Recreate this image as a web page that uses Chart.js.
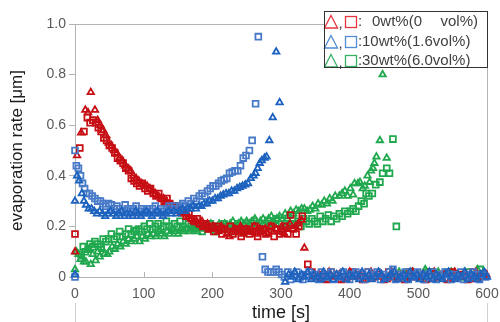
<!DOCTYPE html>
<html>
<head>
<meta charset="utf-8">
<script src="https://cdn.jsdelivr.net/npm/chart.js@4"></script>
<style>
  html, body { margin: 0; padding: 0; background: #fff; }
  #wrap { width: 500px; height: 322px; }
</style>
</head>
<body>
<div id="wrap"><canvas id="evapChart" width="500" height="322"></canvas></div>
<script>
// x ticks / y ticks
const xTicks = [0, 100, 200, 300, 400, 500, 600];
const yTicks = [0, 0.2, 0.4, 0.6, 0.8, 1.0];

// legend rows
const legendLabels = ['0wt%(0', '10wt%(1.6vol%)', '30wt%(6.0vol%)'];

// [time s, rate um]  0wt% triangles
const redTri = [
  [0,0.10],[3,0.48],[9,0.57],[15,0.66],[19,0.65],[23,0.73],[29,0.66],[33,0.62],[37,0.60],[41,0.58],
  [45,0.56],[49,0.53],[53,0.52],[57,0.50],[61,0.49],[65,0.47],[69,0.46],[73,0.44],[77,0.43],[81,0.42],
  [85,0.40],[89,0.39],[93,0.38],[97,0.37],[101,0.36],[105,0.36],[109,0.35],[113,0.34],[117,0.33],[121,0.32],
  [125,0.31],[129,0.31],[133,0.30],[137,0.29],[141,0.28],[145,0.27],[149,0.27],[153,0.26],[157,0.25],[161,0.25],
  [165,0.24],[169,0.23],[173,0.22],[177,0.22],[181,0.21],[185,0.22],[189,0.20],[193,0.21],[197,0.19],[201,0.20],
  [205,0.19],[209,0.18],[213,0.20],[217,0.19],[221,0.17],[225,0.16],[229,0.18],[233,0.19],[237,0.18],[241,0.20],
  [245,0.17],[249,0.19],[253,0.18],[257,0.18],[261,0.20],[265,0.17],[269,0.19],[273,0.18],[277,0.19],[281,0.17],
  [285,0.20],[289,0.18],[293,0.19],[297,0.18],[301,0.20],[305,0.17],[309,0.19],[313,0.21],[317,0.19],[321,0.20],
  [325,0.21],[330,0.225],[334,0.115],
  [342,-0.03],[348,0.00],[355,0.01],[362,-0.01],[370,0.02],[377,0.00],[385,0.01],[392,-0.01],[400,0.02],[408,0.00],
  [416,0.01],[423,-0.01],[431,0.02],[438,0.00],[446,0.01],[454,-0.01],[461,0.02],[469,0.00],[477,0.01],[484,-0.01],
  [492,0.02],[500,0.00],[507,0.01],[515,-0.01],[523,0.02],[530,0.00],[538,0.01],[546,-0.01],[553,0.02],[561,0.00],
  [569,0.01],[576,-0.01],[584,0.02],[592,0.00],[599,0.01]
];

// 0wt% squares
const redSq = [
  [0,0.17],[7,0.51],[13,0.575],[18,0.63],[22,0.61],[26,0.62],[30,0.61],[34,0.59],[38,0.575],[42,0.55],
  [46,0.54],[50,0.52],[54,0.51],[58,0.49],[62,0.47],[66,0.46],[70,0.45],[74,0.43],[78,0.42],[82,0.39],
  [86,0.38],[90,0.37],[94,0.36],[98,0.37],[102,0.35],[106,0.34],[110,0.35],[114,0.33],[118,0.32],[122,0.33],
  [126,0.31],[130,0.30],[134,0.31],[138,0.29],[142,0.28],[146,0.28],[150,0.27],[154,0.26],[158,0.26],[162,0.24],
  [166,0.25],[170,0.23],[174,0.22],[178,0.23],[182,0.21],[186,0.20],[190,0.21],[194,0.19],[198,0.20],[202,0.18],
  [206,0.20],[210,0.19],[214,0.17],[218,0.19],[222,0.18],[226,0.20],[230,0.17],[234,0.18],[238,0.19],[242,0.16],
  [246,0.18],[250,0.19],[254,0.17],[258,0.18],[262,0.20],[266,0.16],[270,0.18],[274,0.19],[278,0.17],[282,0.18],
  [286,0.20],[290,0.16],[294,0.19],[298,0.17],[302,0.18],[306,0.20],[310,0.17],[314,0.245],[318,0.19],[322,0.17],
  [326,0.20],[331,0.24],[339,0.05],
  [345,0.02],[351,0.00],[358,0.01],[366,-0.01],[373,0.02],[381,0.01],[388,-0.01],[396,0.00],[404,0.02],[411,0.01],
  [419,-0.01],[427,0.02],[434,0.00],[442,0.01],[450,-0.01],[457,0.02],[465,0.00],[473,0.01],[480,-0.01],[488,0.02],
  [496,0.00],[503,0.01],[511,-0.01],[519,0.02],[526,0.00],[534,0.01],[542,-0.01],[549,0.02],[557,0.00],[565,0.01],
  [572,-0.01],[580,0.02],[588,0.00],[595,0.01]
];

// 10wt% triangles
const blueTri = [
  [0,0.30],[0,0.01],[3,0.40],[6,0.38],[10,0.33],[13,0.30],[16,0.285],[20,0.27],[24,0.27],[28,0.26],
  [32,0.25],[36,0.26],[40,0.25],[44,0.24],[48,0.25],[52,0.26],[56,0.25],[60,0.24],[64,0.25],[68,0.26],
  [72,0.24],[76,0.25],[80,0.25],[84,0.24],[88,0.26],[92,0.25],[96,0.24],[100,0.25],[104,0.26],[108,0.25],
  [112,0.24],[116,0.25],[120,0.26],[124,0.25],[128,0.24],[132,0.25],[136,0.26],[140,0.25],[144,0.26],[148,0.25],
  [152,0.26],[156,0.27],[160,0.26],[164,0.27],[168,0.27],[172,0.28],[176,0.27],[180,0.28],[184,0.28],[188,0.29],
  [192,0.29],[196,0.30],[200,0.30],[204,0.31],[208,0.31],[212,0.32],[216,0.325],[220,0.33],[224,0.33],[228,0.34],
  [232,0.34],[236,0.35],[240,0.355],[244,0.36],[248,0.365],[252,0.37],[256,0.39],[260,0.40],[263,0.41],[266,0.43],
  [269,0.45],[272,0.46],[276,0.47],[279,0.475],[283,0.54],[288,0.63],[293,0.89],[298,0.69],
  [306,-0.02],[311,0.01],[316,0.00],[320,0.02],[325,-0.01],[330,0.01],[334,0.00],[339,0.02],[344,-0.01],[348,0.01],
  [353,0.00],[358,-0.01],[362,0.02],[367,0.00],[372,0.01],[376,-0.01],[381,0.01],[386,0.00],[390,0.02],[395,-0.01],
  [400,0.01],[404,0.00],[409,0.01],[414,-0.01],[418,0.02],[423,0.00],[428,0.01],[432,-0.01],[437,0.00],[442,0.02],
  [446,0.01],[451,-0.01],[456,0.00],[460,0.01],[465,0.02],[470,-0.01],[474,0.00],[479,0.01],[484,-0.01],[488,0.02],
  [493,0.00],[498,0.01],[502,-0.01],[507,0.01],[512,0.00],[516,0.02],[521,-0.01],[526,0.01],[530,0.00],[535,-0.01],
  [540,0.01],[544,0.02],[549,0.00],[554,-0.01],[558,0.01],[563,0.00],[568,0.02],[572,-0.01],[577,0.01],[582,0.00],
  [586,-0.01],[591,0.01],[596,0.02],[600,0.00]
];

// 10wt% squares
const blueSq = [
  [0,0.50],[0,0.00],[2,0.44],[5,0.43],[8,0.40],[11,0.37],[14,0.35],[17,0.33],[21,0.33],[25,0.32],
  [29,0.31],[33,0.30],[37,0.30],[41,0.29],[45,0.28],[49,0.29],[53,0.285],[57,0.27],[61,0.28],[65,0.27],
  [69,0.26],[73,0.285],[77,0.27],[81,0.26],[85,0.27],[89,0.28],[93,0.26],[97,0.27],[101,0.26],[105,0.27],
  [109,0.26],[113,0.27],[117,0.28],[121,0.26],[125,0.27],[129,0.26],[133,0.27],[137,0.28],[141,0.27],[145,0.28],
  [149,0.27],[153,0.28],[157,0.29],[161,0.28],[165,0.30],[169,0.29],[173,0.31],[177,0.30],[181,0.32],[185,0.33],
  [189,0.32],[193,0.34],[197,0.35],[201,0.36],[205,0.36],[209,0.37],[213,0.38],[217,0.385],[221,0.39],[225,0.41],
  [229,0.415],[233,0.42],[237,0.42],[241,0.44],[245,0.47],[249,0.48],[254,0.50],[258,0.54],[263,0.685],[267,0.95],
  [273,0.08],[277,0.03],[281,0.02],[285,0.02],[289,0.02],[293,0.03],[297,0.02],
  [301,0.01],[305,0.00],[310,0.02],[314,-0.01],[319,0.01],[323,0.02],[328,0.00],[332,-0.01],[337,0.01],[341,0.02],
  [346,0.00],[350,0.01],[355,-0.01],[359,0.02],[364,0.01],[368,0.00],[373,0.02],[377,-0.01],[382,0.01],[386,0.00],
  [391,0.02],[395,0.01],[400,-0.01],[404,0.01],[409,0.02],[413,0.00],[418,0.01],[422,-0.01],[427,0.02],[431,0.00],
  [436,0.01],[440,0.02],[445,-0.01],[449,0.01],[454,0.00],[458,0.02],[463,0.03],[467,-0.01],[472,0.01],[476,0.00],
  [481,0.02],[485,-0.01],[490,0.01],[494,0.00],[499,0.02],[503,0.01],[508,-0.01],[512,0.01],[517,0.00],[521,0.02],
  [526,-0.01],[530,0.01],[535,0.00],[539,0.02],[544,0.01],[548,-0.01],[553,0.01],[557,0.00],[562,0.02],[566,-0.01],
  [571,0.01],[575,0.00],[580,0.02],[584,0.01],[589,-0.01],[593,0.01],[598,0.00]
];

// 30wt% triangles
const greenTri = [
  [0,0.03],[2,0.10],[5,0.09],[8,0.07],[10,0.08],[13,0.06],[16,0.06],[20,0.11],[23,0.05],[26,0.09],
  [30,0.065],[33,0.10],[36,0.08],[40,0.11],[43,0.09],[47,0.09],[50,0.10],[54,0.12],[58,0.11],[62,0.13],
  [66,0.12],[70,0.14],[74,0.13],[78,0.15],[82,0.14],[86,0.15],[90,0.16],[94,0.14],[98,0.16],[102,0.15],
  [106,0.17],[110,0.16],[114,0.17],[118,0.16],[122,0.18],[126,0.17],[130,0.16],[134,0.18],[138,0.17],[142,0.19],
  [146,0.18],[150,0.17],[154,0.19],[158,0.18],[162,0.19],[166,0.18],[170,0.20],[174,0.19],[178,0.18],[182,0.20],
  [186,0.19],[190,0.20],[194,0.19],[198,0.21],[202,0.20],[206,0.19],[210,0.21],[214,0.20],[218,0.21],[222,0.20],
  [226,0.21],[230,0.22],[234,0.20],[238,0.21],[242,0.22],[246,0.21],[250,0.22],[254,0.21],[258,0.22],[262,0.23],
  [266,0.21],[270,0.22],[274,0.23],[278,0.22],[282,0.23],[286,0.24],[290,0.22],[294,0.23],[298,0.24],[302,0.23],
  [306,0.25],[310,0.24],[314,0.26],[318,0.25],[322,0.265],[326,0.26],[330,0.27],[334,0.27],[338,0.26],[342,0.265],
  [346,0.28],[350,0.27],[354,0.29],[359,0.285],[363,0.30],[367,0.29],[371,0.31],[375,0.30],[379,0.32],[385,0.32],
  [389,0.33],[393,0.34],[397,0.32],[401,0.35],[405,0.325],[407,0.37],[412,0.37],[415,0.375],[419,0.35],[422,0.36],
  [426,0.40],[429,0.375],[431,0.42],[434,0.43],[436,0.45],[439,0.475],[444,0.54],[448,0.80],[454,0.47],
  [462,0.01],[472,0.02],[481,0.00],[491,0.02],[500,0.01],[510,0.03],[519,0.00],[529,0.02],[538,0.01],[548,0.02],
  [557,0.00],[567,0.02],[576,0.01],[586,0.03],[595,0.02]
];

// 30wt% squares
const greenSq = [
  [9,0.09],[12,0.12],[15,0.10],[19,0.11],[22,0.13],[26,0.12],[29,0.14],[33,0.13],[38,0.12],[41,0.15],
  [45,0.14],[49,0.15],[53,0.17],[57,0.15],[61,0.16],[65,0.18],[69,0.16],[74,0.17],[78,0.19],[82,0.17],
  [86,0.18],[89,0.185],[93,0.19],[97,0.18],[101,0.20],[105,0.19],[109,0.21],[113,0.19],[117,0.20],[121,0.21],
  [125,0.19],[129,0.20],[133,0.22],[137,0.20],[141,0.19],[145,0.21],[149,0.20],[153,0.22],[157,0.20],[161,0.19],
  [165,0.21],[169,0.20],[173,0.19],[177,0.21],[181,0.20],[185,0.18],[189,0.20],[193,0.19],[197,0.21],[201,0.19],
  [205,0.18],[209,0.20],[213,0.19],[217,0.21],[221,0.20],[225,0.19],[229,0.18],[233,0.20],[237,0.21],[241,0.19],
  [245,0.20],[249,0.21],[253,0.19],[257,0.20],[261,0.22],[265,0.20],[269,0.21],[273,0.19],[277,0.21],[281,0.22],
  [285,0.20],[289,0.21],[293,0.23],[297,0.21],[301,0.21],[305,0.20],[309,0.22],[313,0.21],[317,0.23],[321,0.21],
  [325,0.22],[329,0.20],[333,0.23],[337,0.22],[341,0.21],[345,0.23],[349,0.22],[353,0.21],[357,0.24],[361,0.22],
  [365,0.23],[369,0.245],[373,0.22],[377,0.24],[381,0.23],[385,0.25],[389,0.24],[393,0.26],[397,0.25],[401,0.26],
  [405,0.27],[409,0.26],[413,0.28],[417,0.30],[421,0.29],[424,0.33],[428,0.32],[433,0.33],[438,0.365],[444,0.375],
  [448,0.41],[454,0.43],[458,0.41],[463,0.545],[468,0.20],
  [476,0.00],[486,0.02],[495,0.01],[505,0.00],[514,0.02],[524,0.01],[533,0.00],[543,0.02],[552,0.01],[562,0.00],
  [571,0.02],[581,0.01],[590,0.03]
];

const toXY = (arr) => arr.map(p => ({ x: p[0], y: p[1] }));

const RED = 'rgb(198,14,20)';
const BLUE_T = 'rgb(28,98,190)';
const BLUE_S = 'rgb(72,122,200)';
const GREEN = 'rgb(32,168,78)';

function ds(label, arr, color, style, r) {
  return {
    label: label,
    data: toXY(arr),
    pointStyle: style,
    pointRadius: r,
    pointHoverRadius: r,
    borderColor: color,
    backgroundColor: 'rgba(255,255,255,0)',
    pointBorderWidth: 1.8,
    showLine: false,
    clip: false
  };
}

// plot frame, inner x ticks, stray frame lines
const framePlugin = {
  id: 'frame',
  beforeDatasetsDraw(chart) {
    const { ctx, chartArea: a, scales } = chart;
    ctx.save();
    ctx.strokeStyle = '#b4b4b4';
    ctx.lineWidth = 1;
    ctx.strokeRect(Math.round(a.left) + 0.5, Math.round(a.top) + 0.5,
      Math.round(a.right - a.left), Math.round(a.bottom - a.top));
    xTicks.forEach(v => {
      const x = Math.round(scales.x.getPixelForValue(v)) + 0.5;
      ctx.beginPath();
      ctx.moveTo(x, a.bottom);
      ctx.lineTo(x, a.bottom - 5);
      ctx.stroke();
    });
    ctx.strokeStyle = '#d0d0d0';
    ctx.beginPath();
    ctx.moveTo(Math.round(a.left) + 0.5, 303); ctx.lineTo(Math.round(a.left) + 0.5, 322);
    ctx.moveTo(Math.round(a.right) + 0.5, 303); ctx.lineTo(Math.round(a.right) + 0.5, 322);
    ctx.stroke();
    ctx.restore();
  }
};

// mixed-colour legend box
const legendPlugin = {
  id: 'boxLegend',
  afterDraw(chart) {
    const ctx = chart.ctx;
    const cols = ['rgb(232,52,62)', 'rgb(82,140,212)', 'rgb(52,178,98)'];
    const rows = [22, 42, 61];
    ctx.save();
    ctx.fillStyle = '#fff';
    ctx.fillRect(324, 11, 164, 57);
    ctx.font = '15px "Liberation Sans", Arial, sans-serif';
    ctx.textBaseline = 'middle';
    rows.forEach((y, i) => {
      ctx.strokeStyle = cols[i];
      ctx.lineWidth = 1.3;
      ctx.beginPath();
      ctx.moveTo(331, y - 6.5);
      ctx.lineTo(337.5, y + 6);
      ctx.lineTo(324.5, y + 6);
      ctx.closePath();
      ctx.stroke();
      ctx.strokeRect(345.5, y - 5.5, 11, 11);
      ctx.fillStyle = '#404040';
      ctx.textAlign = 'left';
      ctx.fillText(',', 338.5, y + 2);
      ctx.fillText(':', 358, y);
      if (i === 0) {
        ctx.fillText(legendLabels[0], 372, y);
        ctx.textAlign = 'right';
        ctx.fillText('vol%)', 478, y);
      } else {
        ctx.fillText(legendLabels[i], 362, y);
      }
    });
    ctx.strokeStyle = '#333';
    ctx.lineWidth = 1;
    ctx.strokeRect(324.5, 11.5, 163, 56);
    ctx.restore();
  }
};

const config = {
  type: 'scatter',
  data: {
    datasets: [
      ds('10wt% tri', blueTri, BLUE_T, 'triangle', 3.7),
      ds('10wt% sq', blueSq, BLUE_S, 'rect', 4.1),
      ds('0wt% tri', redTri, RED, 'triangle', 3.7),
      ds('0wt% sq', redSq, RED, 'rect', 4.1),
      ds('30wt% tri', greenTri, GREEN, 'triangle', 3.7),
      ds('30wt% sq', greenSq, GREEN, 'rect', 4.1)
    ]
  },
  options: {
    responsive: false,
    animation: false,
    layout: { padding: { top: 24, right: 0, left: 0, bottom: 0 } },
    plugins: {
      legend: { display: false },
      tooltip: { enabled: false }
    },
    scales: {
      x: {
        type: 'linear',
        min: 0,
        max: 600,
        afterBuildTicks: (s) => { s.ticks = xTicks.map(v => ({ value: v })); },
        afterFit: (s) => { s.height = 45; s.paddingRight = 13; s.paddingLeft = 0; },
        ticks: {
          color: '#595959',
          font: { size: 14, family: '"Liberation Sans", Arial, sans-serif' },
          padding: 9,
          maxRotation: 0
        },
        grid: { display: false, drawTicks: false },
        border: { display: true, color: '#b4b4b4' },
        title: {
          display: true,
          text: 'time [s]',
          color: '#1a1a1a',
          font: { size: 18, lineHeight: 1.0, family: '"Liberation Sans", Arial, sans-serif' },
          padding: { top: 0, bottom: 0 }
        }
      },
      y: {
        type: 'linear',
        min: 0,
        max: 1,
        afterBuildTicks: (s) => { s.ticks = yTicks.map(v => ({ value: v })); },
        afterFit: (s) => { s.width = 75; s.paddingTop = 0; s.paddingBottom = 0; },
        ticks: {
          color: '#595959',
          font: { size: 14, family: '"Liberation Sans", Arial, sans-serif' },
          padding: 3,
          callback: (v) => v === 0 ? '0' : v.toFixed(1)
        },
        grid: { drawOnChartArea: false, drawTicks: true, tickLength: 6, color: '#b4b4b4' },
        border: { display: true, color: '#b4b4b4' },
        title: {
          display: true,
          text: 'evaporation rate [\u03bcm]',
          color: '#1a1a1a',
          font: { size: 17, family: '"Liberation Sans", Arial, sans-serif' },
          padding: { top: 7, bottom: 0 }
        }
      }
    }
  },
  plugins: [framePlugin, legendPlugin]
};

new Chart(document.getElementById('evapChart'), config);
</script>
</body>
</html>
